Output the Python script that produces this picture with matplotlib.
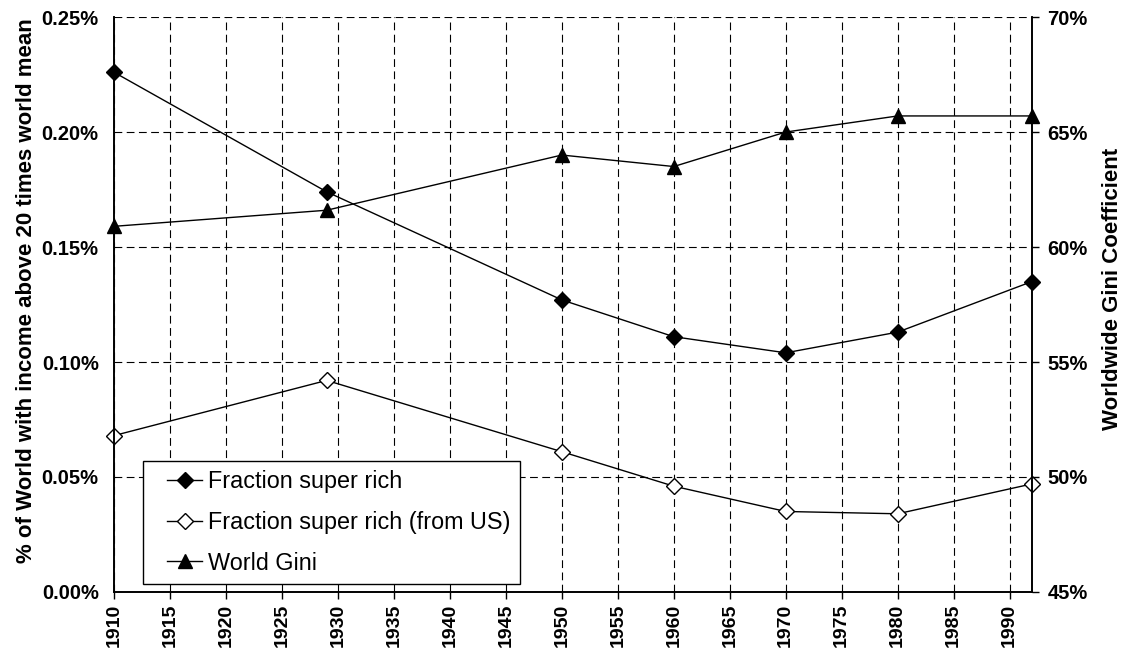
import matplotlib
matplotlib.use("Agg")
import matplotlib.pyplot as plt
from matplotlib.ticker import FuncFormatter
from matplotlib.legend_handler import HandlerLine2D

plt.rcParams['font.family'] = ['Liberation Sans', 'DejaVu Sans']

# datos
anios = [1910, 1929, 1950, 1960, 1970, 1980, 1992]
super_ricos = [0.226, 0.174, 0.127, 0.111, 0.104, 0.113, 0.135]        # % del mundo
super_ricos_us = [0.068, 0.092, 0.061, 0.046, 0.035, 0.034, 0.047]     # % del mundo
gini_mundial = [60.9, 61.6, 64.0, 63.5, 65.0, 65.7, 65.7]              # %

ticks_x = list(range(1910, 1995, 5))
ticks_izq = [0.0, 0.05, 0.10, 0.15, 0.20, 0.25]
ticks_der = [45, 50, 55, 60, 65, 70]

fig = plt.figure(figsize=(11.23, 6.56), dpi=100)
ax = fig.add_axes([0.1015, 0.0976, 0.8175, 0.8764])
ax2 = ax.twinx()

l1, = ax.plot(anios, super_ricos, color='black', lw=1, marker='D', ms=8,
              mfc='black', mec='black', label='Fraction super rich')
l2, = ax.plot(anios, super_ricos_us, color='black', lw=1, marker='D', ms=8,
              mfc='white', mec='black', label='Fraction super rich (from US)')
l3, = ax2.plot(anios, gini_mundial, color='black', lw=1, marker='^', ms=10,
               mfc='black', mec='black', label='World Gini', clip_on=False)
for l in (l1, l2):
    l.set_clip_on(False)

ax.set_xlim(1910, 1992)
ax.set_ylim(0, 0.25)
ax2.set_ylim(45, 70)

ax.set_xticks(ticks_x)
ax.set_yticks(ticks_izq)
ax2.set_yticks(ticks_der)
ax.yaxis.set_major_formatter(FuncFormatter(lambda v, p: f"{v:.2f}%"))
ax2.yaxis.set_major_formatter(FuncFormatter(lambda v, p: f"{v:.0f}%"))

ax.grid(True, color='black', linestyle=(0, (7, 4)), linewidth=0.8)
ax.set_axisbelow(True)

for a in (ax, ax2):
    a.spines['top'].set_visible(False)
    a.spines['left'].set_linewidth(1.2)
    a.spines['right'].set_linewidth(1.2)
    a.spines['bottom'].set_linewidth(1.2)

ax.tick_params(axis='x', direction='out', length=5, width=1, labelrotation=90, labelsize=14)
ax.tick_params(axis='y', length=0, labelsize=14.5, pad=11)
ax2.tick_params(axis='y', direction='out', length=5, width=1, labelsize=14.5, pad=6)
for lab in ax.get_xticklabels() + ax.get_yticklabels() + ax2.get_yticklabels():
    lab.set_fontweight('bold')

ax.set_ylabel('% of World with income above 20 times world mean', fontsize=16,
              fontweight='bold')
ax2.set_ylabel('Worldwide Gini Coefficient', fontsize=16, fontweight='bold')
ax.yaxis.set_label_coords(-0.084, 0.525)
ax2.yaxis.set_label_coords(1.0763, 0.527)

# la leyenda va en ax2 para que quede por encima de todo
# xpad deja un hueco a la izquierda de cada simbolo, como en el original
manejador = HandlerLine2D(xpad=0.63)
ley = ax2.legend(handles=[l1, l2, l3], loc='lower left', bbox_to_anchor=(0.0316, 0.014),
                 fontsize=16.8, frameon=True, fancybox=False, edgecolor='black',
                 framealpha=1, handlelength=2.13, handletextpad=0.26, labelspacing=0.76,
                 borderpad=0.4, borderaxespad=0,
                 handler_map={l1: manejador, l2: manejador, l3: manejador})
ley.get_frame().set_linewidth(1)

plt.savefig('out.png', dpi=100)
